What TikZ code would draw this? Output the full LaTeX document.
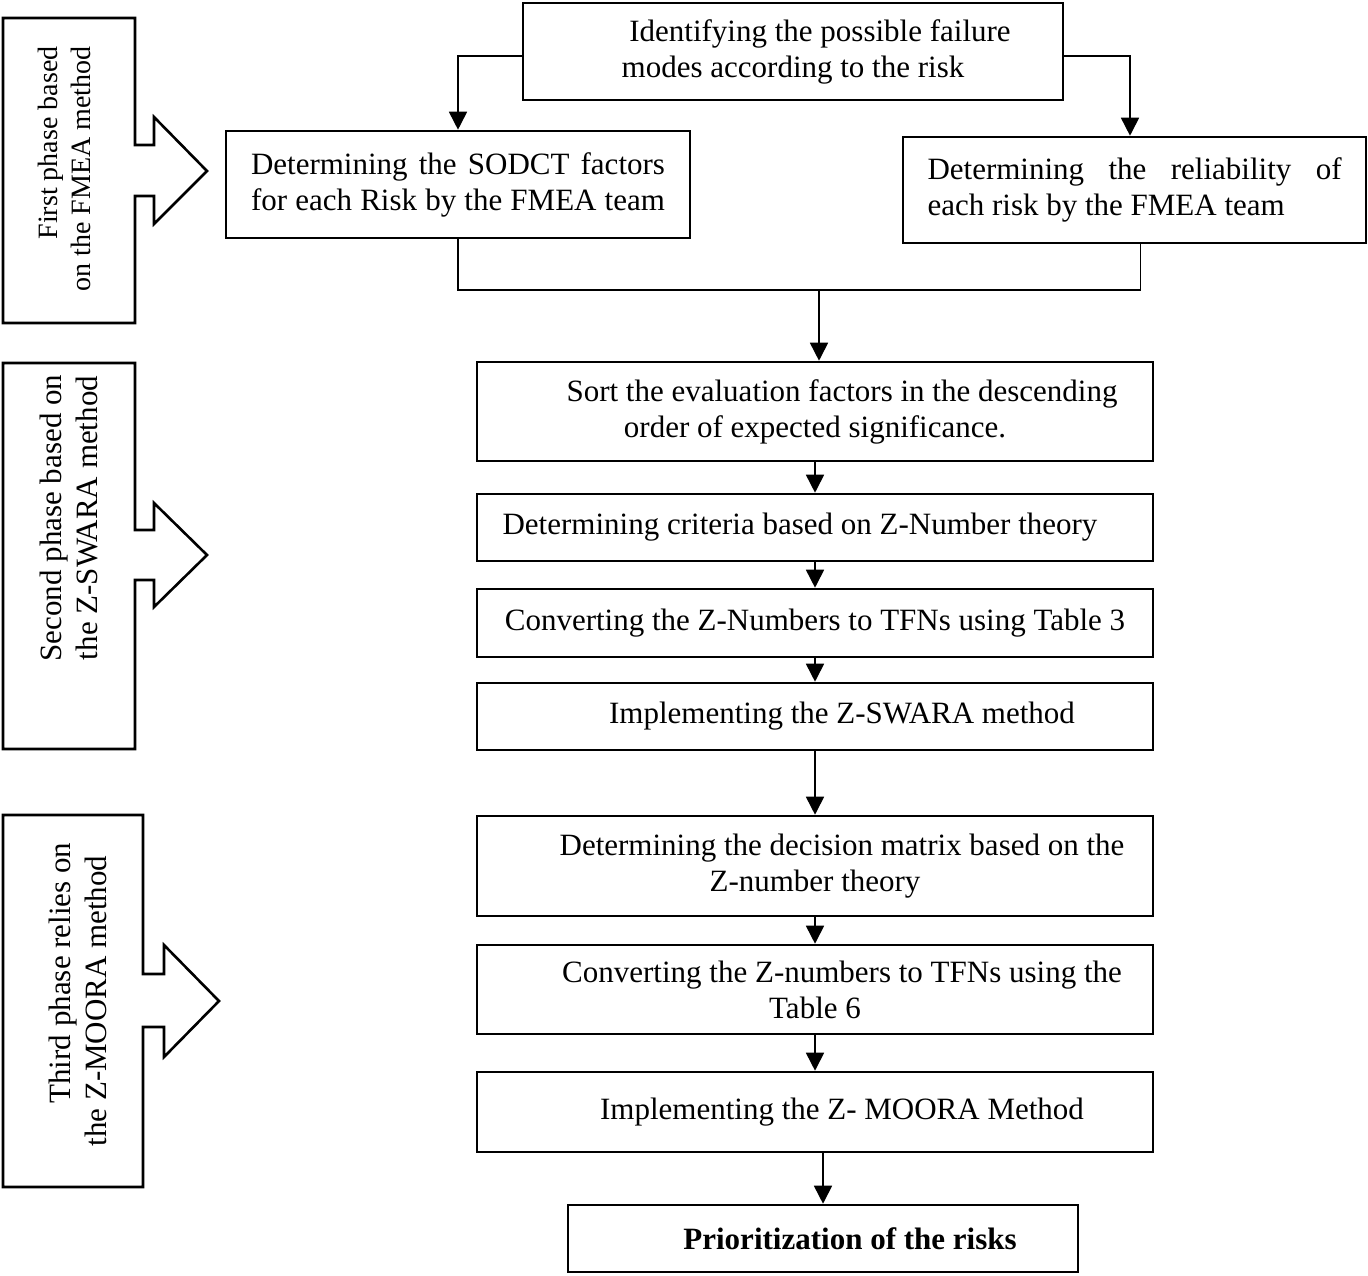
\documentclass[tikz,border=0pt]{standalone}
\usepackage{fontspec}
\setmainfont{Liberation Serif}
\usepackage{tikz}
\usetikzlibrary{arrows.meta, positioning}

\newcommand{\lineind}{\hspace*{27pt}}
\newcommand{\spreadline}[1]{\hbox to 207pt{\spaceskip=0.25em plus 1fil minus 0.12em\relax #1}}

\tikzset{
    box/.style={draw, line width=1.3pt, inner sep=0pt, align=center,
        minimum width=338pt, font=\fontsize{15.5}{18}\selectfont},
    wide/.style={text width=207pt, align=left},
    conn/.style={line width=0.85pt},
    arr/.style={conn, -{Triangle[length=9pt,width=9pt]}},
    phase/.style={draw, line width=1.3pt, line join=miter},
    phasetext/.style={rotate=90, font=\fontsize{15.5}{18}\selectfont}
}

\begin{document}
\begin{tikzpicture}[x=0.5pt, y=-0.5pt]
\useasboundingbox (0,0) rectangle (1368,1275);

%faze
    %prva (FMEA)
    \draw[phase] (3,18) -- (135,18) -- (135,145) -- (154,145) -- (154,117)
        -- (207,171) -- (154,224) -- (154,196) -- (135,196) -- (135,323)
        -- (3,323) -- cycle;
    \node[phasetext, align=right, font=\fontsize{14}{16.5}\selectfont] (p1) at (64,169)
        {First phase based\\on the FMEA method};

    %druga (Z-SWARA)
    \draw[phase] (3,363) -- (135,363) -- (135,530) -- (154,530) -- (154,503)
        -- (207,555) -- (154,607) -- (154,580) -- (135,580) -- (135,749)
        -- (3,749) -- cycle;
    \node[phasetext, align=center] (p2) at (69,518)
        {Second phase based on\\the Z-SWARA method};

    %treca (Z-MOORA)
    \draw[phase] (3,815) -- (143,815) -- (143,974) -- (164,974) -- (164,945)
        -- (219,1001) -- (164,1057) -- (164,1027) -- (143,1027) -- (143,1187)
        -- (3,1187) -- cycle;
    \node[phasetext, align=center] (p3) at (78,987)
        {\hspace*{14pt}Third phase relies on\\the Z-MOORA method\hspace*{14pt}};

%kutije
    %prva faza
    \node[box, minimum width=270pt, minimum height=48.5pt] (top) at (793,51.5)
        {\lineind Identifying the possible failure\\modes according to the risk};
    \node[box, wide, minimum width=232pt, minimum height=53.5pt] (sodct) at (458,184.5)
        {\spreadline{Determining the SODCT factors}\\
         \spreadline{for each Risk by the FMEA team}};
    \node[box, wide, minimum width=231.5pt, minimum height=53pt] (reli) at (1134.5,190)
        {\spreadline{Determining the reliability of}\\
         {\spaceskip=0.25em\relax each risk by the FMEA team}};

    %druga faza
    \node[box, minimum height=49.5pt] (sort) at (815,411.5)
        {\lineind Sort the evaluation factors in the descending\\order of expected significance.};
    \node[box, minimum height=33.5pt] (crit) at (815,527.5)
        {Determining criteria based on Z-Number theory\hspace*{15pt}};
    \node[box, minimum height=34pt] (tfn3) at (815,623)
        {Converting the Z-Numbers to TFNs using Table 3};
    \node[box, minimum height=33.5pt] (swara) at (815,716.5)
        {\lineind Implementing the Z-SWARA method};

    %treca faza
    \node[box, minimum height=50pt] (matrix) at (815,866)
        {\lineind Determining the decision matrix based on the\\Z-number theory};
    \node[box, minimum height=44.5pt] (tfn6) at (815,989.5)
        {\lineind Converting the Z-numbers to TFNs using the\\Table 6};
    \node[box, minimum height=40pt] (moora) at (815,1112)
        {\lineind Implementing the Z- MOORA Method};
    \node[box, minimum width=255pt, minimum height=33.5pt] (prio) at (823,1238.5)
        {\lineind\textbf{Prioritization of the risks}};

%strelice
    \draw[arr] ([yshift=-2.25pt]top.west) -| (sodct.north);
    \draw[arr] ([yshift=-2.25pt]top.east) -| ([xshift=-2.25pt]reli.north);
    \coordinate (join) at (819,290);
    \draw[conn] (sodct.south) |- (join) -| ([xshift=3pt]reli.south);
    \draw[arr] (join) -- (join |- sort.north);

    \draw[arr] (sort.south) -- (crit.north);
    \draw[arr] (crit.south) -- (tfn3.north);
    \draw[arr] (tfn3.south) -- (swara.north);
    \draw[arr] (swara.south) -- (matrix.north);
    \draw[arr] (matrix.south) -- (tfn6.north);
    \draw[arr] (tfn6.south) -- (moora.north);
    \draw[arr] (moora.south -| prio.north) -- (prio.north);
\end{tikzpicture}
\end{document}
